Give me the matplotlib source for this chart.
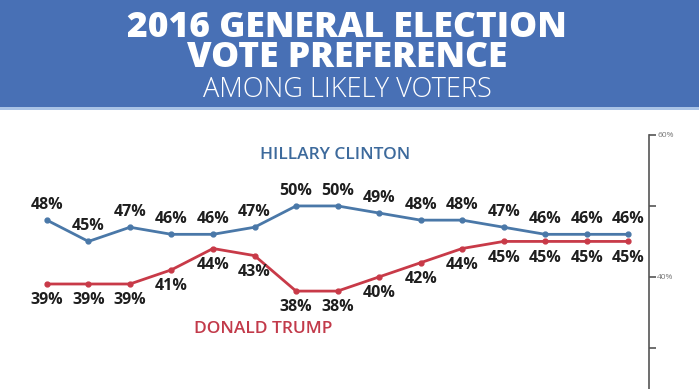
import matplotlib.pyplot as plt
from matplotlib.patches import Rectangle

# データ
polls = list(range(15))
clinton = [48, 45, 47, 46, 46, 47, 50, 50, 49, 48, 48, 47, 46, 46, 46]
trump = [39, 39, 39, 41, 44, 43, 38, 38, 40, 42, 44, 45, 45, 45, 45]
axis_ticks = [60, 50, 40, 30]
axis_labels = ['60%', '', '40%', '']

title1 = '2016 GENERAL ELECTION'
title2 = 'VOTE PREFERENCE'
subtitle = 'AMONG LIKELY VOTERS'

BLUE = '#4a78a8'
RED = '#c83a48'
HEADER = '#4870b5'

plt.rcParams['font.family'] = ['Open Sans', 'DejaVu Sans']

W, H = 699, 389
fig = plt.figure(figsize=(W / 100, H / 100), dpi=100)

# ヘッダー帯
fig.patches.append(Rectangle((0, 1 - 107 / H), 1, 107 / H, transform=fig.transFigure,
                             facecolor=HEADER, edgecolor='none', zorder=0))
fig.patches.append(Rectangle((0, 1 - 110 / H), 1, 3 / H, transform=fig.transFigure,
                             facecolor='#a9c3e6', edgecolor='none', zorder=0))
fig.text(0.497, 1 - 37 / H, title1, ha='center', va='baseline', color='white',
         fontsize=25.5, fontweight='heavy')
fig.text(0.497, 1 - 67 / H, title2, ha='center', va='baseline', color='white',
         fontsize=25.5, fontweight='heavy')
fig.text(0.497, 1 - 97 / H, subtitle, ha='center', va='baseline', color='white',
         fontsize=19.5, fontweight='light')

# グラフ領域 (x: 0..649px, y: 135..389px)
ax = fig.add_axes([0, 0, 649 / W, (H - 135) / H])
ax.set_xlim(-1.13, 14.5)
ax.set_ylim(24.2, 60)

ax.plot(polls, clinton, color=BLUE, lw=2, marker='o', ms=3.5, zorder=3)
ax.plot(polls, trump, color=RED, lw=2, marker='o', ms=3.5, zorder=3)

for x, c, t in zip(polls, clinton, trump):
    ax.annotate(f'{c}%', (x, c), xytext=(0, 5), textcoords='offset points',
                ha='center', va='bottom', fontsize=11.5, fontweight='bold', color='#1e1e1e')
    ax.annotate(f'{t}%', (x, t), xytext=(0, -6), textcoords='offset points',
                ha='center', va='top', fontsize=11.5, fontweight='bold', color='#1e1e1e')

ax.text(6.95, 57.2, 'HILLARY CLINTON', ha='center', va='center',
        fontsize=12.5, fontweight='semibold', color='#3d6a9c')
ax.text(5.2, 32.7, 'DONALD TRUMP', ha='center', va='center',
        fontsize=12.5, fontweight='semibold', color='#c23a4a')

# 右側の軸
for s in ['top', 'left', 'bottom']:
    ax.spines[s].set_visible(False)
ax.spines['right'].set_color('#555555')
ax.spines['right'].set_linewidth(1.2)
ax.set_xticks([])
ax.yaxis.tick_right()
ax.set_yticks(axis_ticks)
ax.set_yticklabels(axis_labels)
ax.tick_params(axis='y', direction='out', length=5, width=1.2, color='#555555',
               labelsize=6, labelcolor='#777777', pad=1)
ax.patch.set_visible(False)

fig.savefig('out.png', dpi=100)
